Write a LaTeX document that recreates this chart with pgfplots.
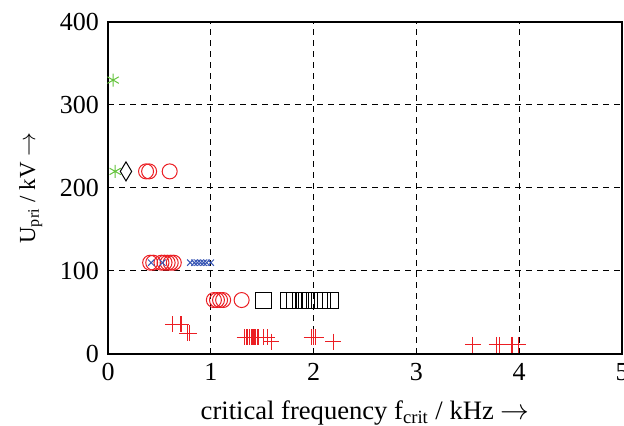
\documentclass[border=0pt]{standalone}
\usepackage{pgfplots}
\pgfplotsset{compat=1.18}
\usepackage{fontspec}
\setmainfont{Liberation Serif}
\definecolor{mred}{RGB}{235,30,35}
\definecolor{mblue}{RGB}{55,85,180}
\definecolor{mgreen}{RGB}{100,195,60}
\begin{document}
\fontsize{13pt}{15pt}\selectfont
\begin{tikzpicture}
\begin{axis}[
  name=ax,
  at={(0,0)}, anchor=south west,
  scale only axis,
  width=257pt, height=166pt,
  xmin=0, xmax=5, ymin=0, ymax=400,
  xtick={0,1,2,3,4,5}, ytick={0,100,200,300,400},
  tick align=inside, tick pos=left,
  major tick length=3pt,
  grid=major,
  major grid style={black, dash pattern=on 3pt off 2.5pt, line width=0.5pt},
  axis line style={line width=0.75pt},
  tick style={line width=0.5pt, black},
  /pgf/number format/assume math mode=true,
  ticklabel style={font=\fontsize{13pt}{15pt}\selectfont},
  xlabel style={font=\fontsize{13.3pt}{15pt}\selectfont, yshift=-1pt},
  ylabel style={font=\fontsize{11.5pt}{14pt}\selectfont, yshift=0pt},
  xlabel={critical frequency f\textsubscript{crit} / kHz $\rightarrow$},
  ylabel={U\textsubscript{pri} / kV $\rightarrow$},
  clip=false,
]
% green asterisks
\addplot[only marks, mark=asterisk, mark size=3.25pt, color=mgreen, mark options={draw=mgreen, line width=0.5pt}]
  coordinates {(0.05,330) (0.07,220)};
% black diamond
\addplot[only marks, mark=diamond, mark size=4.75pt, color=black, mark options={draw=black, line width=0.5pt, xscale=0.8}]
  coordinates {(0.175,220)};
% red circles
\addplot[only marks, mark=o, mark size=3.75pt, color=mred, mark options={draw=mred, line width=0.5pt}]
  coordinates {(0.37,220) (0.40,220) (0.60,220)
  (0.41,110) (0.44,110) (0.52,110) (0.55,110) (0.58,110) (0.61,110) (0.64,110)
  (1.03,65) (1.06,65) (1.09,65) (1.12,65) (1.30,65)};
% blue x
\addplot[only marks, mark=x, mark size=2.2pt, color=mblue, mark options={draw=mblue, line width=0.5pt}]
  coordinates {(0.42,110) (0.53,110) (0.80,110) (0.84,110) (0.87,110) (0.90,110) (0.93,110) (0.96,110) (1.00,110)};
% black squares
\addplot[only marks, mark=square, mark size=4pt, color=black, mark options={draw=black, line width=0.5pt}]
  coordinates {(1.51,65) (1.76,65) (1.81,65) (1.87,65) (1.90,65) (1.93,65) (1.96,65) (2.01,65) (2.06,65) (2.09,65) (2.16,65)};
% red plus
\addplot[only marks, mark=+, mark size=4pt, color=mred, mark options={draw=mred, line width=0.55pt}]
  coordinates {(0.63,36) (0.71,36) (0.77,25) (0.79,25)
  (1.33,20) (1.35,20) (1.36,20) (1.38,20) (1.40,20) (1.41,20) (1.43,20) (1.45,20) (1.46,20) (1.51,20) (1.55,20) (1.59,15)
  (1.98,20) (2.00,20) (2.02,20) (2.19,15)
  (3.55,11) (3.78,11) (3.81,11) (3.93,11) (3.99,11)};
\end{axis}
\pgfresetboundingbox
\useasboundingbox ([shift={(-54pt,-36pt)}]ax.south west) rectangle ([shift={(1pt,11pt)}]ax.north east);
\end{tikzpicture}
\end{document}
